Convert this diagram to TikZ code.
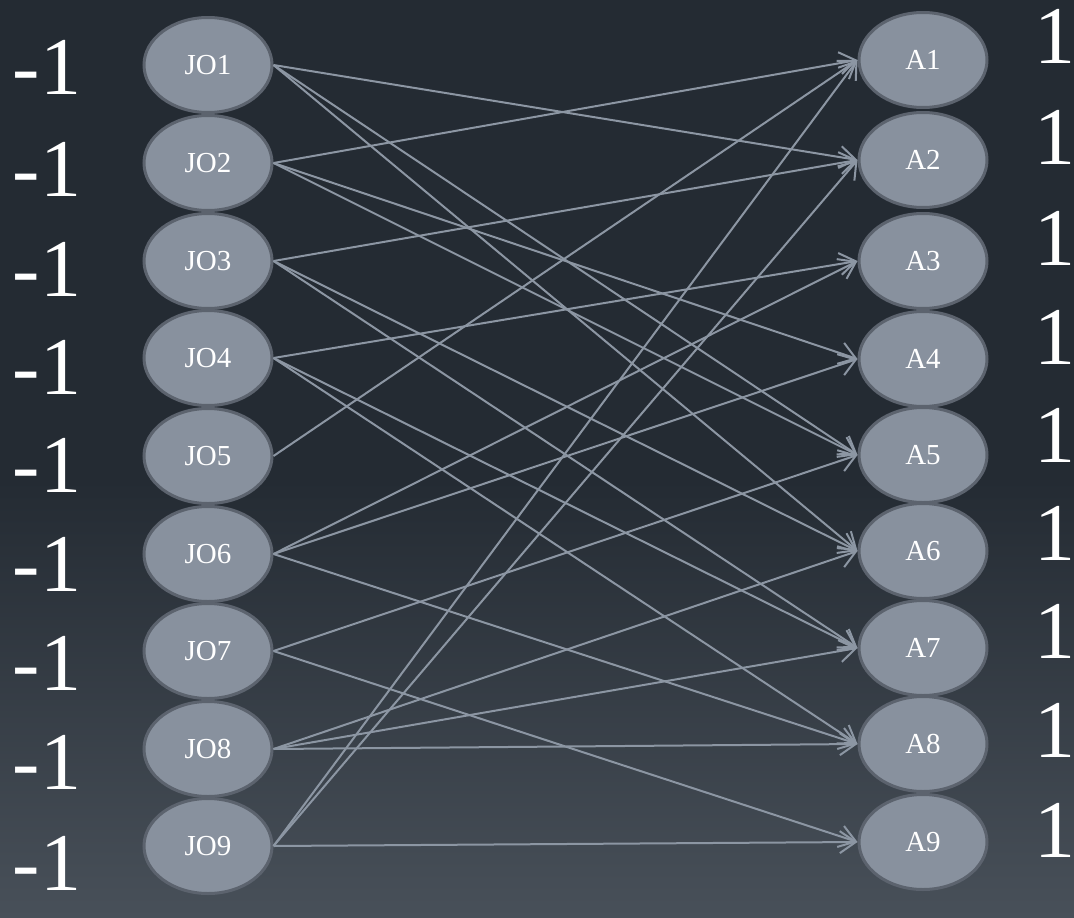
\documentclass[tikz,border=0pt]{standalone}
\usepackage{fontspec}
\setmainfont{Liberation Serif}
\usetikzlibrary{shapes.geometric, arrows.meta}
\definecolor{bgtop}{RGB}{36,43,51}
\definecolor{bgbot}{RGB}{72,80,89}
\definecolor{nodefill}{RGB}{136,145,158}
\definecolor{nodeline}{RGB}{92,99,110}
\definecolor{edgecol}{RGB}{140,150,163}
\tikzset{
  vertex/.style={ellipse, draw=nodeline, line width=3pt, fill=nodefill,
                 minimum width=128pt, minimum height=95pt, inner sep=0pt,
                 text=white, font=\fontsize{29}{29}\selectfont},
  edge/.style={-{Straight Barb[length=16pt, width=22pt]}, draw=edgecol, line width=2pt},
  weight/.style={text=white, inner sep=0pt, font=\fontsize{82}{82}\selectfont},
}

\begin{document}
\begin{tikzpicture}[x=1pt, y=-1pt]
  \useasboundingbox (0,0) rectangle (1074,918);
  % background
  \fill[bgtop] (0,0) rectangle (1074,918);
  \shade[top color=bgtop, bottom color=bgbot] (0,480) rectangle (1074,918);

  % left side
  \foreach \i/\y/\w in {1/65/67,2/163/169,3/261/269,4/358/367,5/456/465,6/554/564,7/651/663,8/749/762,9/846/863} {
    \node[vertex] (J\i) at (208,\y) {JO\i};
    \node[weight] (m\i) at (47,\w) {-1};
  }

  % right side
  \foreach \i/\y/\w in {1/60/36,2/160/137,3/261/238,4/359/337,5/455/435,6/551/533,7/648/631,8/744/730,9/842/830} {
    \node[vertex] (A\i) at (923,\y) {A\i};
    \node[weight] (p\i) at (1055,\w) {1};
  }

  % edges
  \foreach \s/\t in {1/2,1/5,1/6, 2/1,2/4,2/5, 3/2,3/6,3/7, 4/3,4/7,4/8, 5/1,
                     6/3,6/4,6/8, 7/5,7/9, 8/6,8/7,8/8, 9/1,9/2,9/9}
    \draw[edge] (J\s.east) -- (A\t.west);
\end{tikzpicture}
\end{document}
